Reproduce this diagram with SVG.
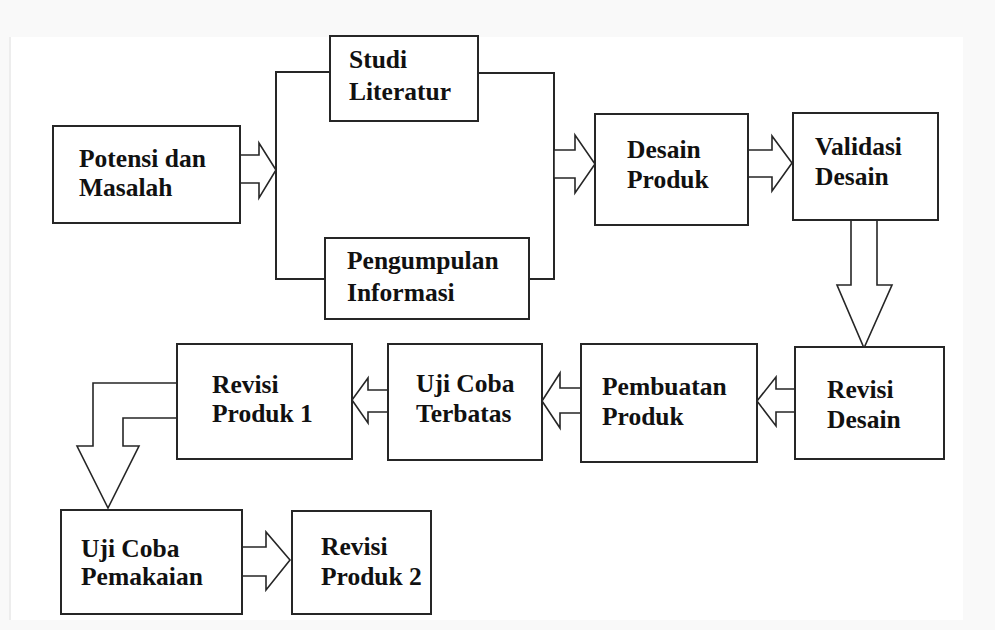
<svg xmlns="http://www.w3.org/2000/svg" width="995" height="630" viewBox="0 0 995 630">
<style>
.box{fill:#fff;stroke:#262626;stroke-width:2}
.arr{fill:#fff;stroke:#262626;stroke-width:1.6;stroke-linejoin:miter}
.ln{fill:none;stroke:#262626;stroke-width:2}
.t{font-family:"Liberation Serif","Times New Roman",serif;font-weight:bold;font-size:25.5px;fill:#111}
</style>
<rect x="0" y="0" width="995" height="630" fill="#f9f9f9"/>
<rect x="11" y="37" width="952" height="583" fill="#fff"/>
<line x1="10" y1="37" x2="10" y2="620" stroke="#e8e8e8" stroke-width="1.5"/>
<g id="connectors">
  <path class="ln" d="M330,72 H276 V279 H325"/>
  <path class="ln" d="M478,73 H554 V279 H529"/>
  <polygon class="arr" points="240,155 259,155 259,143 276,170 259,198 259,183 240,183"/>
  <polygon class="arr" points="554,150 575,150 575,135 595,164 575,193 575,178 554,178"/>
  <polygon class="arr" points="748,150 772,150 772,136 792,163 772,191 772,177 748,177"/>
  <polygon class="arr" points="851,220 877,220 877,285 892,285 864,348 837,285 851,285"/>
  <polygon class="arr" points="795,389 776,389 776,377 757,401 776,426 776,412 795,412"/>
  <polygon class="arr" points="581,388 560,388 560,373 542,401 560,428 560,413 581,413"/>
  <polygon class="arr" points="388,390 368,390 368,378 352,400 368,423 368,412 388,412"/>
  <polygon class="arr" points="177,383 93,383 93,446 77,446 108,508 139,446 123,446 123,418 177,418"/>
  <polygon class="arr" points="242,547 266,547 266,532 290,560 266,590 266,576 242,576"/>
</g>
<g id="potensi-masalah">
  <rect class="box" x="53" y="126" width="187" height="97"/>
  <text class="t" x="79" y="167">Potensi dan</text>
  <text class="t" x="79" y="196">Masalah</text>
</g>
<g id="studi-literatur">
  <rect class="box" x="330" y="36" width="148" height="85"/>
  <text class="t" x="349" y="68">Studi</text>
  <text class="t" x="349" y="100">Literatur</text>
</g>
<g id="pengumpulan-informasi">
  <rect class="box" x="325" y="238" width="204" height="81"/>
  <text class="t" x="347" y="269">Pengumpulan</text>
  <text class="t" x="347" y="301">Informasi</text>
</g>
<g id="desain-produk">
  <rect class="box" x="595" y="114" width="153" height="111"/>
  <text class="t" x="627" y="158">Desain</text>
  <text class="t" x="627" y="188">Produk</text>
</g>
<g id="validasi-desain">
  <rect class="box" x="793" y="113" width="145" height="107"/>
  <text class="t" x="815" y="155">Validasi</text>
  <text class="t" x="815" y="185">Desain</text>
</g>
<g id="revisi-desain">
  <rect class="box" x="795" y="347" width="149" height="112"/>
  <text class="t" x="827" y="398">Revisi</text>
  <text class="t" x="827" y="428">Desain</text>
</g>
<g id="pembuatan-produk">
  <rect class="box" x="581" y="344" width="176" height="118"/>
  <text class="t" x="602" y="395">Pembuatan</text>
  <text class="t" x="602" y="425">Produk</text>
</g>
<g id="uji-coba-terbatas">
  <rect class="box" x="388" y="344" width="154" height="116"/>
  <text class="t" x="416" y="392">Uji Coba</text>
  <text class="t" x="416" y="422">Terbatas</text>
</g>
<g id="revisi-produk-1">
  <rect class="box" x="177" y="344" width="175" height="115"/>
  <text class="t" x="212" y="393">Revisi</text>
  <text class="t" x="212" y="422">Produk 1</text>
</g>
<g id="uji-coba-pemakaian">
  <rect class="box" x="61" y="510" width="181" height="104"/>
  <text class="t" x="81" y="557">Uji Coba</text>
  <text class="t" x="81" y="585">Pemakaian</text>
</g>
<g id="revisi-produk-2">
  <rect class="box" x="292" y="511" width="139" height="103"/>
  <text class="t" x="321" y="555">Revisi</text>
  <text class="t" x="321" y="585">Produk 2</text>
</g>
</svg>
